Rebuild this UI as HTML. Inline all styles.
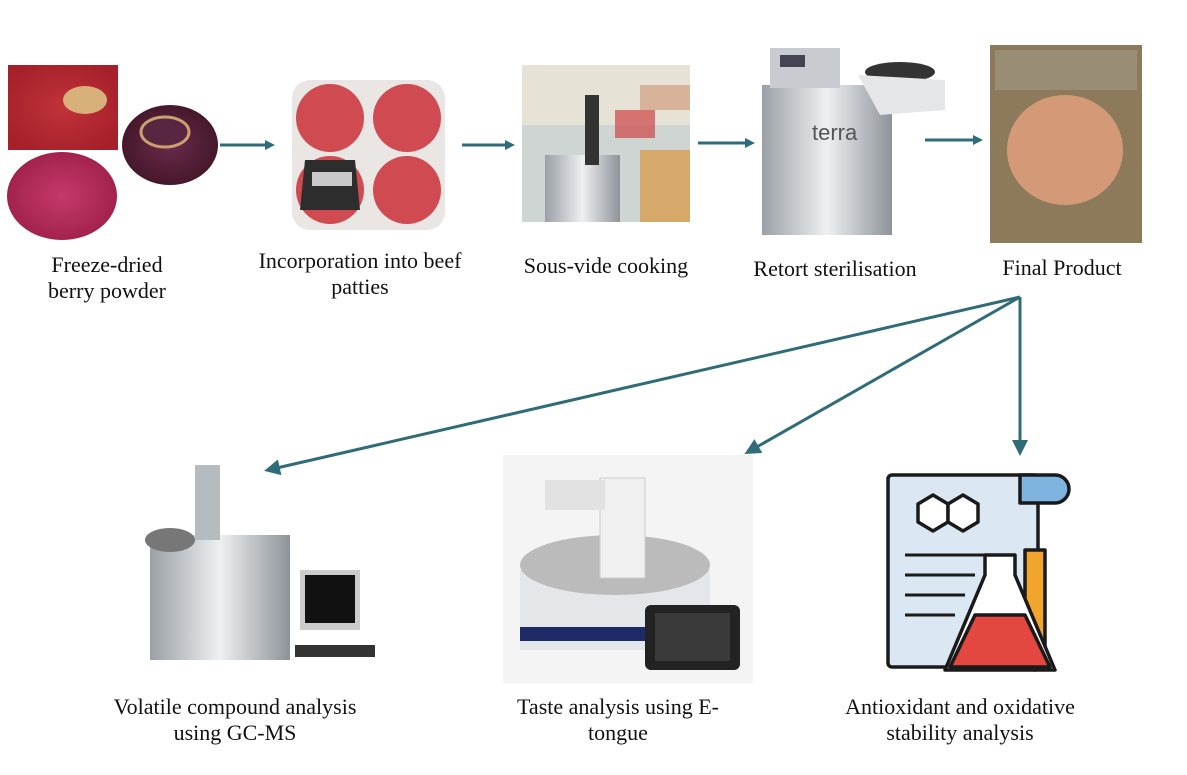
<!DOCTYPE html>
<html><head><meta charset="utf-8"><style>
html,body{margin:0;padding:0;background:#fff;}
svg{display:block;}
text{font-family:"Liberation Serif",serif;font-size:22px;fill:#111;}
</style></head><body>
<svg width="1187" height="775" viewBox="0 0 1187 775" xmlns="http://www.w3.org/2000/svg">
<defs>
<marker id="ah" markerWidth="10" markerHeight="10" refX="7" refY="5" orient="auto" markerUnits="userSpaceOnUse"><path d="M0,0 L10,5 L0,10 z" fill="#2f6b78"/></marker>
<marker id="ah2" markerWidth="16" markerHeight="16" refX="12" refY="8" orient="auto" markerUnits="userSpaceOnUse"><path d="M0,0 L16,8 L0,16 z" fill="#2f6b78"/></marker>
<radialGradient id="red" cx="50%" cy="50%" r="60%"><stop offset="0" stop-color="#c0323a"/><stop offset="1" stop-color="#a5202a"/></radialGradient>
<radialGradient id="mag" cx="50%" cy="50%" r="60%"><stop offset="0" stop-color="#c43a6a"/><stop offset="1" stop-color="#9d1d48"/></radialGradient>
<radialGradient id="pur" cx="50%" cy="50%" r="60%"><stop offset="0" stop-color="#6a2a4a"/><stop offset="1" stop-color="#3f1426"/></radialGradient>
<linearGradient id="steel" x1="0" x2="1"><stop offset="0" stop-color="#9aa0a6"/><stop offset=".5" stop-color="#eef0f2"/><stop offset="1" stop-color="#8d9399"/></linearGradient>
</defs>

<!-- berry powders -->
<rect x="8" y="65" width="110" height="85" fill="url(#red)"/>
<ellipse cx="85" cy="100" rx="22" ry="14" fill="#d8b07a"/>
<rect x="8" y="150" width="110" height="92" fill="#fff"/>
<ellipse cx="62" cy="196" rx="55" ry="44" fill="url(#mag)"/>
<ellipse cx="170" cy="145" rx="48" ry="40" fill="url(#pur)"/>
<ellipse cx="165" cy="132" rx="24" ry="15" fill="#5a2540" stroke="#c9a070" stroke-width="3"/>

<!-- patties -->
<rect x="292" y="80" width="153" height="150" rx="18" fill="#e9e6e4"/>
<circle cx="330" cy="118" r="34" fill="#d04a52"/>
<circle cx="407" cy="118" r="34" fill="#d04a52"/>
<circle cx="330" cy="190" r="34" fill="#d04a52"/>
<circle cx="407" cy="190" r="34" fill="#d04a52"/>
<path d="M305,160 L355,160 L360,210 L300,210 z" fill="#2d2d2d"/>
<rect x="312" y="172" width="40" height="14" fill="#c9c9c9"/>

<!-- sous-vide -->
<rect x="522" y="65" width="168" height="157" fill="#cfd5d3"/>
<rect x="522" y="65" width="168" height="60" fill="#e6e2d6"/>
<rect x="640" y="150" width="50" height="72" fill="#d6a96a"/>
<rect x="545" y="155" width="75" height="67" fill="url(#steel)"/>
<rect x="585" y="95" width="14" height="70" fill="#333"/>
<rect x="615" y="110" width="40" height="28" fill="#c44" opacity=".7"/>
<rect x="640" y="85" width="50" height="25" fill="#d7b39a"/>

<!-- retort -->
<rect x="762" y="85" width="130" height="150" fill="url(#steel)"/>
<rect x="770" y="48" width="70" height="40" fill="#c8ccd0"/>
<rect x="780" y="55" width="25" height="12" fill="#445"/>
<ellipse cx="900" cy="72" rx="35" ry="10" fill="#333"/>
<path d="M858,75 L945,80 L945,110 L880,115 z" fill="#e4e6e8"/>
<text x="812" y="140" style="font-size:22px;fill:#555;font-family:'Liberation Sans',sans-serif">terra</text>

<!-- final product -->
<rect x="990" y="45" width="152" height="198" fill="#8c7a5a"/>
<ellipse cx="1065" cy="150" rx="58" ry="55" fill="#d49a78"/>
<rect x="995" y="50" width="142" height="40" fill="#a39a88" opacity=".6"/>

<!-- top arrows -->
<g stroke="#2f6b78" stroke-width="3" fill="none">
<line x1="220" y1="145" x2="272" y2="145" marker-end="url(#ah)"/>
<line x1="462" y1="145" x2="512" y2="145" marker-end="url(#ah)"/>
<line x1="698" y1="143" x2="752" y2="143" marker-end="url(#ah)"/>
<line x1="925" y1="140" x2="980" y2="140" marker-end="url(#ah)"/>
<line x1="1020" y1="297" x2="268" y2="470" marker-end="url(#ah2)"/>
<line x1="1020" y1="297" x2="748" y2="452" marker-end="url(#ah2)"/>
<line x1="1020" y1="297" x2="1020" y2="452" marker-end="url(#ah2)"/>
</g>

<!-- top labels -->
<text x="107" y="272" text-anchor="middle">Freeze-dried</text>
<text x="107" y="298" text-anchor="middle">berry powder</text>
<text x="360" y="268" text-anchor="middle">Incorporation into beef</text>
<text x="360" y="294" text-anchor="middle">patties</text>
<text x="606" y="273" text-anchor="middle">Sous-vide cooking</text>
<text x="835" y="276" text-anchor="middle">Retort sterilisation</text>
<text x="1062" y="275" text-anchor="middle">Final Product</text>

<!-- GC-MS -->
<rect x="150" y="535" width="140" height="125" fill="url(#steel)"/>
<rect x="195" y="465" width="25" height="75" fill="#b6bbc0"/>
<ellipse cx="170" cy="540" rx="25" ry="12" fill="#777"/>
<rect x="300" y="570" width="60" height="60" fill="#ccc"/>
<rect x="305" y="575" width="50" height="48" fill="#111"/>
<rect x="295" y="645" width="80" height="12" fill="#333"/>

<!-- E-tongue -->
<rect x="503" y="455" width="250" height="228" fill="#f4f4f4"/>
<rect x="520" y="570" width="190" height="80" fill="#e4e6ea"/>
<ellipse cx="615" cy="565" rx="95" ry="30" fill="#bbb"/>
<rect x="600" y="478" width="45" height="100" fill="#f0f0f0" stroke="#ccc"/>
<rect x="545" y="480" width="60" height="30" fill="#e2e2e2"/>
<rect x="520" y="627" width="190" height="14" fill="#1d2a66"/>
<rect x="645" y="605" width="95" height="65" rx="6" fill="#222"/>
<rect x="655" y="613" width="75" height="48" fill="#3a3a3a"/>

<!-- antioxidant icon -->
<g stroke="#1a1a1a" stroke-width="3.5" stroke-linejoin="round">
<rect x="888" y="475" width="150" height="192" rx="4" fill="#dbe7f3"/>
<path d="M1020,475 h35 a14,14 0 0 1 0,28 h-35 z" fill="#7fb3e0"/>
<polygon points="933,495 948,504 948,522 933,531 918,522 918,504" fill="#fff"/>
<polygon points="963,495 978,504 978,522 963,531 948,522 948,504" fill="#fff"/>
<path d="M1045,550 v110 a10,10 0 0 1 -20,0 v-110 z" fill="#f2a52c"/>
<path d="M985,555 h30 v20 l40,95 h-110 l40,-95 z" fill="#fff"/>
<path d="M975,615 h50 l25,52 h-100 z" fill="#e3473f"/>
</g>
<g stroke="#1a1a1a" stroke-width="3"><line x1="905" y1="555" x2="990" y2="555"/><line x1="905" y1="575" x2="975" y2="575"/><line x1="905" y1="595" x2="965" y2="595"/><line x1="905" y1="615" x2="955" y2="615"/></g>

<!-- bottom labels -->
<text x="235" y="714" text-anchor="middle">Volatile compound analysis</text>
<text x="235" y="740" text-anchor="middle">using GC-MS</text>
<text x="618" y="714" text-anchor="middle">Taste analysis using E-</text>
<text x="618" y="740" text-anchor="middle">tongue</text>
<text x="960" y="714" text-anchor="middle">Antioxidant and oxidative</text>
<text x="960" y="740" text-anchor="middle">stability analysis</text>
</svg>
</body></html>
